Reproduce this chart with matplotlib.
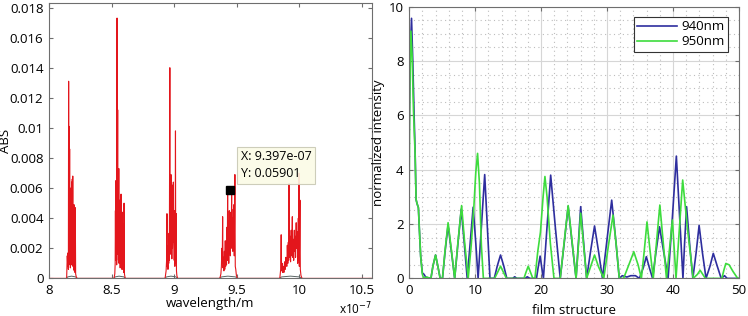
import numpy as np
import matplotlib.pyplot as plt
from matplotlib.ticker import FuncFormatter, MultipleLocator

plt.rcParams['font.family'] = ['Open Sans', 'DejaVu Sans']
plt.rcParams['font.size'] = 9.5

# left panel: absorption spectrum (wavelength in units of 1e-7 m)
wl = [8.000, 8.141, 8.146, 8.150, 8.153, 8.155, 8.157, 8.159, 8.161, 8.163, 8.165, 8.167, 8.169, 8.171,
      8.173, 8.175, 8.177, 8.179, 8.181, 8.183, 8.186, 8.188, 8.190, 8.192, 8.195, 8.197, 8.200, 8.202,
      8.205, 8.207, 8.210, 8.213, 8.218, 8.223,
      8.520, 8.526, 8.529, 8.531, 8.533, 8.535, 8.537, 8.539, 8.541, 8.544, 8.546, 8.549, 8.551, 8.553,
      8.555, 8.558, 8.560, 8.562, 8.564, 8.567, 8.569, 8.571, 8.573, 8.576, 8.578, 8.581, 8.583, 8.586,
      8.588, 8.591, 8.593, 8.596, 8.598, 8.600, 8.603, 8.609,
      8.928, 8.936, 8.940, 8.943, 8.945, 8.948, 8.951, 8.954, 8.957, 8.960, 8.962, 8.966, 8.968, 8.971,
      8.973, 8.975, 8.977, 8.980, 8.982, 8.985, 8.987, 8.990, 8.992, 8.994, 8.996, 8.999, 9.001, 9.004,
      9.006, 9.009, 9.011, 9.013, 9.015, 9.017, 9.019, 9.022, 9.028,
      9.366, 9.374, 9.378, 9.382, 9.385, 9.388, 9.391, 9.395, 9.398, 9.402, 9.405, 9.409, 9.412, 9.416,
      9.419, 9.423, 9.425, 9.428, 9.430, 9.434, 9.437, 9.441, 9.443, 9.447, 9.450, 9.454, 9.456, 9.460,
      9.462, 9.466, 9.469, 9.473, 9.475, 9.478, 9.481, 9.486, 9.489, 9.493, 9.498, 9.505,
      9.845, 9.852, 9.856, 9.859, 9.864, 9.868, 9.873, 9.878, 9.883, 9.888, 9.893, 9.897, 9.901, 9.905,
      9.909, 9.913, 9.916, 9.919, 9.922, 9.927, 9.931, 9.936, 9.940, 9.945, 9.948, 9.952, 9.956, 9.961,
      9.964, 9.967, 9.971, 9.976, 9.979, 9.984, 9.988, 9.993, 9.995, 9.998, 10.001, 10.006, 10.009,
      10.014, 10.022, 10.600]
absorb = [0, 0, 0.0015, 0.0008, 0.0017, 0.0006, 0.0131, 0.0009, 0.0101, 0.0015, 0.0086, 0.0010, 0.0042, 0.0007,
          0.0060, 0.0012, 0.0041, 0.0009, 0.0064, 0.0015, 0.0066, 0.0011, 0.0068, 0.0008, 0.0036, 0.0006, 0.0049, 0.0005,
          0.0025, 0.0004, 0.0047, 0.0003, 0.0001, 0,
          0, 0.0003, 0.0010, 0.0045, 0.0012, 0.0065, 0.0014, 0.0047, 0.0009, 0.0173, 0.0016, 0.0112, 0.0020, 0.0058,
          0.0012, 0.0073, 0.0010, 0.0036, 0.0014, 0.0052, 0.0007, 0.0030, 0.0011, 0.0056, 0.0012, 0.0034, 0.0006, 0.0044,
          0.0009, 0.0036, 0.0006, 0.0018, 0.0004, 0.0050, 0.0003, 0,
          0, 0.0005, 0.0012, 0.0043, 0.0008, 0.0015, 0.0006, 0.0022, 0.0010, 0.0030, 0.0012, 0.0140, 0.0016, 0.0068,
          0.0022, 0.0069, 0.0018, 0.0055, 0.0013, 0.0062, 0.0020, 0.0028, 0.0024, 0.0064, 0.0027, 0.0028, 0.0012, 0.0045,
          0.0008, 0.0030, 0.0098, 0.0010, 0.0020, 0.0043, 0.0005, 0.0002, 0,
          0, 0.0003, 0.0008, 0.0020, 0.0010, 0.0041, 0.0007, 0.0014, 0.0005, 0.0018, 0.0006, 0.0025, 0.0008, 0.0020,
          0.0009, 0.0034, 0.0012, 0.0057, 0.0014, 0.0038, 0.0010, 0.0045, 0.0017, 0.0034, 0.0015, 0.0044, 0.0020, 0.0057,
          0.0022, 0.0040, 0.0018, 0.0046, 0.0022, 0.0049, 0.0015, 0.0069, 0.0008, 0.0006, 0.0002, 0,
          0, 0.0006, 0.0029, 0.0005, 0.0010, 0.0004, 0.0008, 0.0004, 0.0011, 0.0006, 0.0014, 0.0012, 0.0008, 0.0022,
          0.0010, 0.0024, 0.0012, 0.0063, 0.0014, 0.0028, 0.0011, 0.0032, 0.0015, 0.0041, 0.0014, 0.0026, 0.0012, 0.0032,
          0.0018, 0.0028, 0.0014, 0.0037, 0.0020, 0.0031, 0.0010, 0.0040, 0.0012, 0.0070, 0.0008, 0.0052, 0.0006,
          0.0002, 0, 0]
# small dark envelope under each group
base_wl = [8.136, 8.150, 8.180, 8.212, 8.228, 8.516, 8.530, 8.560, 8.598, 8.614,
           8.924, 8.940, 8.975, 9.015, 9.032, 9.360, 9.380, 9.430, 9.490, 9.510,
           9.840, 9.860, 9.930, 10.000, 10.026]
base_abs = [0, 0.0001, 0.00015, 0.0001, 0, 0, 0.0001, 0.00015, 0.0001, 0,
            0, 0.0001, 0.00015, 0.0001, 0, 0, 0.0001, 0.00015, 0.0001, 0,
            0, 0.0001, 0.00015, 0.0001, 0]
tip_x = 9.444
tip_y = 0.0059

# right panel: normalized intensity vs film structure
x940 = [0.0, 0.15, 0.36, 0.55, 0.75, 0.9, 1.05, 1.2, 1.4, 1.55, 1.75, 2.0, 2.25, 2.5, 2.9, 3.3, 3.6, 4.0, 4.35,
        4.7, 5.05, 5.45, 5.9, 6.4, 6.9, 7.4, 7.9, 8.35, 8.8, 9.25, 9.7, 10.1, 10.45, 10.95, 11.45, 11.85,
        12.25, 12.9, 13.35, 13.85, 14.35, 14.8, 15.7, 16.0, 16.3, 17.6, 17.9, 18.3, 19.3, 19.55, 19.85,
        20.1, 20.35, 20.9, 21.45, 22.15, 22.9, 23.5, 24.1, 24.7, 25.3, 25.65, 26.0, 26.45, 26.9, 27.5, 28.1,
        28.7, 29.3, 30.0, 30.7, 31.3, 31.85, 32.3, 33.0, 33.6, 34.3, 34.9, 35.5, 35.95, 36.4, 36.9, 37.4,
        37.95, 38.6, 39.25, 39.9, 40.5, 41.0, 41.5, 41.75, 42.05, 42.5, 43.0, 43.5, 43.95, 44.45, 45.0,
        45.6, 46.1, 46.7, 47.3, 47.8, 48.2, 50.0]
y940 = [5.3, 8.2, 9.57, 8.0, 6.0, 4.7, 2.9, 2.75, 2.6, 1.8, 0.8, 0.2, 0.15, 0.05, 0.02, 0.0, 0.45, 0.86, 0.45,
        0.0, 0.0, 1.0, 1.96, 1.0, 0.0, 1.3, 2.55, 1.3, 0.0, 1.3, 2.62, 1.3, 0.0, 1.9, 3.82, 1.9,
        0.0, 0.0, 0.45, 0.86, 0.45, 0.0, 0.0, 0.06, 0.0, 0.0, 0.06, 0.0, 0.0, 0.4, 0.82,
        0.4, 0.0, 1.9, 3.8, 1.9, 0.0, 1.3, 2.65, 1.3, 0.0, 1.3, 2.64, 1.3, 0.0, 1.0, 1.93,
        1.0, 0.0, 1.45, 2.88, 1.45, 0.0, 0.1, 0.05, 0.1, 0.1, 0.0, 0.4, 0.8, 0.4, 0.0, 0.95,
        1.9, 0.95, 0.0, 2.25, 4.5, 2.25, 0.0, 1.3, 2.64, 1.3, 0.0, 0.95, 1.95, 0.95, 0.0,
        0.45, 0.92, 0.45, 0.0, 0.1, 0.0, 0.0]
x950 = [0.0, 0.1, 0.26, 0.45, 0.65, 0.9, 1.05, 1.2, 1.4, 1.55, 1.75, 2.0, 2.2, 2.6, 3.3, 3.6, 4.0, 4.35,
        4.7, 5.05, 5.45, 5.9, 6.4, 6.9, 7.4, 7.95, 8.4, 8.95, 9.4, 9.8, 10.1, 10.37, 10.65, 10.95, 11.25,
        12.95, 13.4, 13.85, 14.3, 14.75, 17.4, 17.7, 18.05, 18.4, 18.75, 19.06, 19.5, 19.9, 20.3, 20.58,
        20.9, 21.4, 21.95, 22.9, 23.5, 24.1, 24.7, 25.3, 25.65, 26.0, 26.45, 26.9, 27.5, 28.1, 28.7, 29.5,
        30.2, 30.9, 31.4, 31.85, 32.5, 33.3, 34.05, 34.7, 35.2, 35.65, 36.05, 36.5, 37.0, 37.5, 38.0, 38.5,
        39.0, 39.45, 39.9, 40.2, 40.45, 40.95, 41.46, 42.2, 43.05, 43.7, 44.1, 44.5, 44.9, 47.4, 47.7,
        48.0, 48.5, 49.1, 49.8, 50.0]
y950 = [3.0, 7.0, 9.1, 8.2, 6.2, 4.6, 2.9, 2.75, 2.6, 1.8, 0.8, 0.15, 0.0, 0.05, 0.0, 0.45, 0.86, 0.45,
        0.0, 0.0, 1.05, 2.05, 1.05, 0.0, 1.35, 2.68, 1.35, 0.0, 1.2, 2.6, 3.9, 4.6, 3.5, 1.2, 0.0,
        0.0, 0.22, 0.45, 0.22, 0.0, 0.0, 0.22, 0.45, 0.22, 0.0, 0.0, 1.0, 1.7, 3.0, 3.75,
        3.0, 1.3, 0.0, 0.0, 1.35, 2.68, 1.35, 0.0, 1.2, 2.4, 1.2, 0.0, 0.43, 0.86, 0.43, 0.0,
        1.2, 2.33, 1.2, 0.0, 0.0, 0.5, 0.98, 0.5, 0.0, 1.05, 2.08, 1.05, 0.0, 1.35, 2.7, 1.35,
        0.0, 1.05, 2.15, 1.0, 0.0, 1.8, 3.62, 1.8, 0.0, 0.15, 0.3, 0.15, 0.0, 0.0, 0.3,
        0.55, 0.5, 0.25, 0.0, 0.0]

fig = plt.figure(figsize=(7.48, 3.16), dpi=100)
edge = '#6e6e6e'

# left plot
ax1 = fig.add_axes([0.0655, 0.119, 0.4315, 0.8715])
ax1.plot(base_wl, base_abs, color='#5a6464', lw=0.7)
ax1.plot(wl, absorb, color='#e3161c', lw=0.8)
ax1.plot([tip_x], [tip_y], 's', color='black', ms=5.5)
ax1.annotate('X: 9.397e-07\nY: 0.05901', xy=(tip_x, tip_y), xytext=(8, 7), textcoords='offset points',
             ha='left', va='bottom', fontsize=9, linespacing=1.35,
             bbox=dict(boxstyle='square,pad=0.3', fc='#fbfbe6', ec='#c8c8b4', lw=0.8, alpha=0.9))
ax1.set_xlim(8, 10.58)
ax1.set_ylim(0, 0.0183)
ax1.set_xticks([8, 8.5, 9, 9.5, 10, 10.5])
ax1.set_yticks(np.arange(0, 0.0181, 0.002))
ax1.xaxis.set_major_formatter(FuncFormatter(lambda v, p: '{:g}'.format(v)))
ax1.yaxis.set_major_formatter(FuncFormatter(lambda v, p: '{:g}'.format(round(v, 4))))
ax1.set_xlabel('wavelength/m')
ax1.set_ylabel('ABS')
ax1.xaxis.set_label_coords(0.5, -0.066)
ax1.yaxis.set_label_coords(-0.115, 0.5)
ax1.text(1.0, -0.112, 'x10$^{-7}$', transform=ax1.transAxes, ha='right', va='center', fontsize=8.5)

# right plot
ax2 = fig.add_axes([0.547, 0.119, 0.441, 0.860])
ax2.plot(x940, y940, color='#2e2e9e', lw=1.2, label='940nm')
ax2.plot(x950, y950, color='#3ddc3d', lw=1.2, label='950nm')
ax2.set_xlim(0, 50)
ax2.set_ylim(0, 10)
ax2.xaxis.set_major_locator(MultipleLocator(10))
ax2.xaxis.set_minor_locator(MultipleLocator(2))
ax2.yaxis.set_major_locator(MultipleLocator(2))
ax2.yaxis.set_minor_locator(MultipleLocator(0.5))
ax2.grid(which='major', color='#d6d6d6', lw=0.8)
ax2.grid(which='minor', color='#bdbdbd', lw=0.8, ls=(0, (1, 3)))
ax2.set_axisbelow(True)
ax2.set_xlabel('film structure')
ax2.set_ylabel('normalized intensity')
ax2.xaxis.set_label_coords(0.5, -0.094)
ax2.yaxis.set_label_coords(-0.072, 0.5)
leg = ax2.legend(loc='upper right', fontsize=9.5, fancybox=False, framealpha=1,
                 edgecolor='#333333', handlelength=3.0, borderaxespad=0.8, borderpad=0.25,
                 labelspacing=0.15, handletextpad=0.4)
leg.get_frame().set_linewidth(0.8)

for ax in (ax1, ax2):
    for s in ax.spines.values():
        s.set_color(edge)
    ax.tick_params(which='both', direction='in', top=True, right=True, color=edge,
                   length=3, labelsize=9.5, pad=4)
    ax.tick_params(which='minor', length=0)

fig.savefig('out.png', dpi=100)
